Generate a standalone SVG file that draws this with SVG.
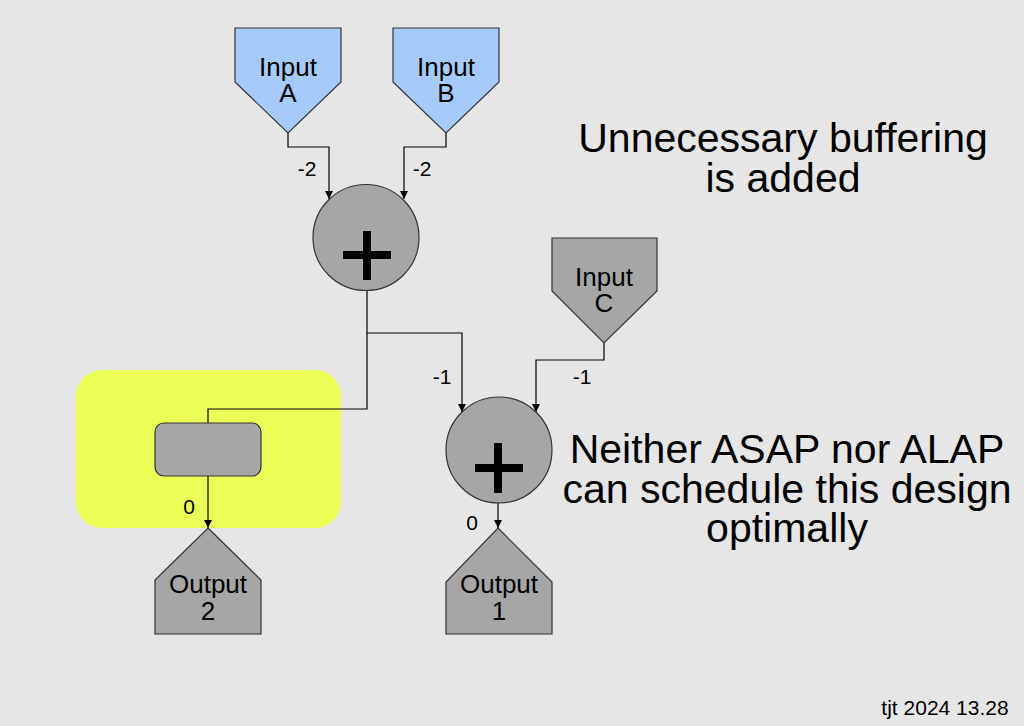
<svg xmlns="http://www.w3.org/2000/svg" width="1024" height="726" viewBox="0 0 1024 726">
<defs>
<style>
.lbl{font-family:"Liberation Sans",Arial,sans-serif;fill:#000;text-anchor:middle}
.node{font-size:26px}
.edge{font-size:21px}
.big{font-size:41px}
.wire{fill:none;stroke:#000;stroke-width:1.2}
.shape{stroke:#333;stroke-width:1.2}
.blue{fill:#a6cbfa}
.gray{fill:#a6a6a6}
.plus{stroke:#000;stroke-width:8;stroke-linecap:butt}
</style>
<marker id="arr" viewBox="0 0 8 8" refX="8" refY="4" markerWidth="8" markerHeight="8" markerUnits="userSpaceOnUse" orient="auto">
<path d="M0,0 L8,4 L0,8 z" fill="#000"/>
</marker>
</defs>
<rect width="1024" height="726" fill="#e6e6e6"/>
<rect id="highlight" x="76" y="370" width="265" height="158" rx="26" fill="#ecfe55"/>

<g id="connectors">
<path class="wire" d="M288,133 V147 H329 V199" marker-end="url(#arr)"/>
<path class="wire" d="M446,133 V147 H404 V199" marker-end="url(#arr)"/>
<path class="wire" d="M367,290 V333 H462 V412" marker-end="url(#arr)"/>
<path class="wire" d="M367,333 V409 H208 V423"/>
<path class="wire" d="M604,343 V360 H536 V412" marker-end="url(#arr)"/>
<path class="wire" d="M208,476 V528" marker-end="url(#arr)"/>
<path class="wire" d="M498,503 V528" marker-end="url(#arr)"/>
<text class="lbl edge" x="307" y="176">-2</text>
<text class="lbl edge" x="422" y="176">-2</text>
<text class="lbl edge" x="442" y="384">-1</text>
<text class="lbl edge" x="582" y="384">-1</text>
<text class="lbl edge" x="189" y="514">0</text>
<text class="lbl edge" x="472" y="530">0</text>
</g>

<g id="inputA">
<polygon class="shape blue" points="235,28 341,28 341,82 288,133 235,82"/>
<text class="lbl node" x="288" y="76">Input</text>
<text class="lbl node" x="288" y="102">A</text>
</g>
<g id="inputB">
<polygon class="shape blue" points="393,28 499,28 499,82 446,133 393,82"/>
<text class="lbl node" x="446" y="76">Input</text>
<text class="lbl node" x="446" y="102">B</text>
</g>
<g id="inputC">
<polygon class="shape gray" points="552,238 657,238 657,291 604,343 552,291"/>
<text class="lbl node" x="604" y="286">Input</text>
<text class="lbl node" x="604" y="312">C</text>
</g>
<g id="add1">
<circle class="shape gray" cx="366" cy="237.5" r="53"/>
<line class="plus" x1="343" y1="255" x2="391" y2="255"/>
<line class="plus" x1="367" y1="231" x2="367" y2="280"/>
</g>
<g id="add2">
<circle class="shape gray" cx="499" cy="450" r="53"/>
<line class="plus" x1="475" y1="468" x2="523" y2="468"/>
<line class="plus" x1="498" y1="443" x2="498" y2="493"/>
</g>
<g id="buffer">
<rect class="shape gray" x="155" y="423" width="106" height="53" rx="9"/>
</g>
<g id="output2">
<polygon class="shape gray" points="208,528 261,580 261,634 155,634 155,580"/>
<text class="lbl node" x="208" y="593">Output</text>
<text class="lbl node" x="208" y="620">2</text>
</g>
<g id="output1">
<polygon class="shape gray" points="498,528 552,582 552,634 446,634 446,582"/>
<text class="lbl node" x="499" y="593">Output</text>
<text class="lbl node" x="499" y="620">1</text>
</g>

<g id="notes">
<text class="lbl big" x="783" y="152">Unnecessary buffering</text>
<text class="lbl big" x="783" y="192">is added</text>
<text class="lbl big" x="787" y="463">Neither ASAP nor ALAP</text>
<text class="lbl big" x="787" y="503">can schedule this design</text>
<text class="lbl big" x="787" y="542">optimally</text>
<text class="lbl edge" x="945" y="715">tjt 2024 13.28</text>
</g>
</svg>
